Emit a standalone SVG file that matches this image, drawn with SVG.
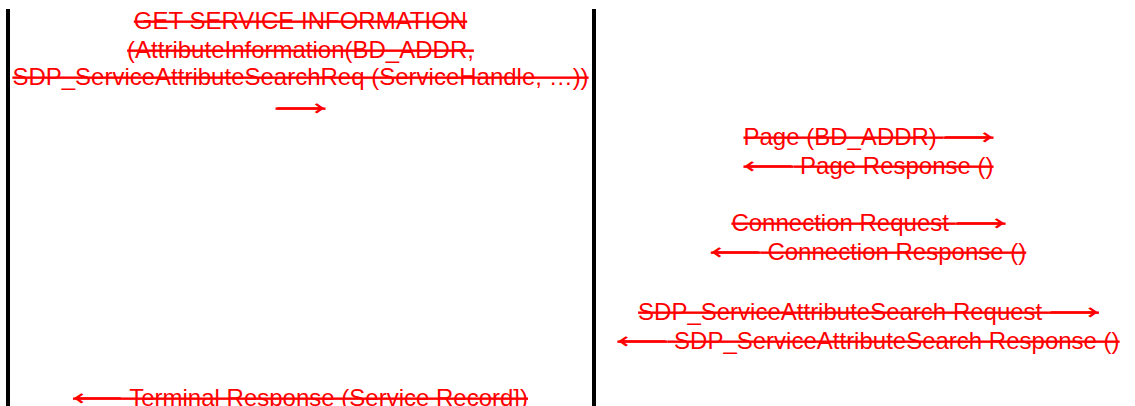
<svg xmlns="http://www.w3.org/2000/svg" width="1135" height="406" viewBox="0 0 1135 406">
<style>
.t{font-family:"Liberation Sans",Arial,"DejaVu Sans",sans-serif;font-size:24px;fill:#ff0000;text-decoration:line-through;text-decoration-thickness:2px;text-anchor:middle}
.a{font-family:"DejaVu Sans",sans-serif}
.life{stroke:#000;stroke-width:4}
</style>
<rect width="1135" height="406" fill="#fff"/>
<g id="connectors">
<line class="life" x1="8" y1="9" x2="8" y2="406"/>
<line class="life" x1="594" y1="9" x2="594" y2="406"/>
</g>
<g id="left-column">
<text class="t" x="300.5" y="29">GET SERVICE INFORMATION</text>
<text class="t" x="300.5" y="58">(AttributeInformation(BD_ADDR,</text>
<text class="t" x="300.5" y="85">SDP_ServiceAttributeSearchReq (ServiceHandle, …))</text>
<text class="t" x="300.5" y="116"><tspan class="a" textLength="50" lengthAdjust="spacingAndGlyphs">⟶</tspan></text>
<text class="t" x="300.5" y="406"><tspan class="a" textLength="50" lengthAdjust="spacingAndGlyphs">⟵</tspan> Terminal Response (Service Record])</text>
</g>
<g id="right-column">
<text class="t" x="868.5" y="145">Page (BD_ADDR) <tspan class="a" textLength="50" lengthAdjust="spacingAndGlyphs">⟶</tspan></text>
<text class="t" x="868.5" y="174"><tspan class="a" textLength="50" lengthAdjust="spacingAndGlyphs">⟵</tspan> Page Response ()</text>
<text class="t" x="868.5" y="231">Connection Request <tspan class="a" textLength="50" lengthAdjust="spacingAndGlyphs">⟶</tspan></text>
<text class="t" x="868.5" y="260"><tspan class="a" textLength="50" lengthAdjust="spacingAndGlyphs">⟵</tspan> Connection Response ()</text>
<text class="t" x="868.5" y="320">SDP_ServiceAttributeSearch Request <tspan class="a" textLength="50" lengthAdjust="spacingAndGlyphs">⟶</tspan></text>
<text class="t" x="868.5" y="349"><tspan class="a" textLength="50" lengthAdjust="spacingAndGlyphs">⟵</tspan> SDP_ServiceAttributeSearch Response ()</text>
</g>
</svg>
